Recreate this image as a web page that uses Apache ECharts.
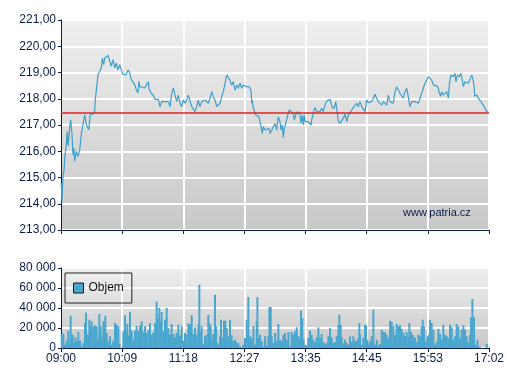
<!DOCTYPE html>
<html>
<head>
<meta charset="utf-8">
<script src="https://cdn.jsdelivr.net/npm/echarts@6/dist/echarts.min.js"></script>
<style>html,body{margin:0;padding:0;background:#fff}#c{width:507px;height:380px}</style>
</head>
<body>
<div id="c"></div>
<script>
// ---- data (minutes since 09:00, price) ----
const sessionMinutes = 482; // 09:00 .. 17:02
const xTickLabels = ["09:00","10:09","11:18","12:27","13:35","14:45","15:53","17:02"];
const refPrice = 217.48;
const priceMinutes = [0.3,1.1,2.3,3.4,4.2,6.0,7.1,7.9,9.8,10.9,12.4,13.5,14.6,15.4,17.2,19.1,21.1,22.9,24.8,26.7,28.5,30.4,31.2,33.0,36.0,38.0,38.6,40.5,41.7,43.6,45.4,46.5,48.1,49.2,51.0,52.9,54.8,56.6,58.6,60.5,62.3,64.2,66.1,67.9,69.8,71.7,73.5,75.5,77.4,79.2,81.1,83.0,84.8,86.7,87.8,88.6,90.4,94.3,94.6,98.3,99.1,101.4,103.9,105.9,109.6,111.5,113.4,117.1,120.8,122.8,124.7,126.5,128.4,130.3,132.1,134.0,135.9,137.7,139.6,141.6,143.4,145.3,147.2,149.0,150.9,152.8,154.6,156.5,158.5,160.3,162.2,164.1,165.9,167.8,169.7,171.5,173.4,175.4,177.2,179.1,181.0,182.8,184.7,186.6,188.4,190.3,192.2,194.0,196.0,197.9,199.7,201.6,203.5,205.3,207.2,209.1,211.7,214.0,214.8,215.4,216.6,218.5,219.3,221.5,223.0,225.3,226.7,227.8,229.8,231.7,234.2,235.4,237.3,239.1,241.0,242.9,244.7,246.6,247.8,249.2,250.4,251.5,253.1,254.2,255.3,256.8,259.0,261.6,262.7,264.3,266.6,268.0,269.2,270.3,271.8,272.9,274.0,274.8,276.7,278.5,281.6,282.3,284.1,286.1,288.0,289.8,291.7,293.6,295.4,297.3,299.2,301.0,302.9,304.1,305.5,307.8,309.4,310.5,312.3,314.2,316.1,317.9,319.8,321.8,323.6,325.5,327.4,329.2,331.1,333.0,334.8,336.7,338.7,340.5,342.4,344.3,346.1,348.0,349.9,351.7,353.6,355.5,357.3,359.3,361.2,363.0,364.9,366.8,368.6,370.5,372.4,374.2,376.1,378.1,379.9,381.8,383.7,385.5,387.4,389.3,391.1,393.0,395.0,396.8,398.7,400.6,402.4,404.3,406.2,408.0,409.9,411.8,413.7,415.6,417.5,419.3,421.2,423.1,424.9,426.0,427.6,428.7,430.5,432.5,434.4,436.2,437.3,438.9,440.7,441.8,443.7,444.8,446.3,448.6,450.1,451.6,453.1,455.0,456.9,458.7,460.6,462.5,463.7,465.1,465.9,468.2,470.0,471.9,475.6,479.4,481.2];
const priceValues = [214.79,214.09,215.10,215.25,215.74,216.25,216.76,216.20,216.89,217.20,216.63,215.87,216.12,215.62,216.00,215.80,216.06,216.66,216.70,217.39,217.01,216.99,216.82,217.39,217.42,217.53,217.96,218.54,218.92,219.04,219.17,219.55,219.30,219.55,219.49,219.65,219.62,219.24,219.49,219.17,219.36,219.10,219.30,219.10,218.92,218.98,218.92,219.10,218.98,218.73,218.66,218.54,218.35,218.22,218.66,218.47,218.41,218.41,218.46,218.65,218.40,218.21,218.14,217.98,217.98,217.70,217.89,217.89,217.89,217.70,218.21,218.40,218.14,217.89,218.14,217.83,217.70,217.95,217.83,217.95,218.14,218.08,217.70,217.64,217.51,217.70,217.95,217.70,217.89,217.83,217.95,217.89,217.83,218.02,218.27,218.08,217.95,217.70,217.70,217.83,218.08,218.27,218.59,218.90,218.97,218.71,218.52,218.65,218.33,218.52,218.40,218.59,218.40,218.52,218.46,218.46,218.46,218.33,217.83,217.95,217.64,217.64,217.38,217.45,217.32,216.94,216.68,216.94,216.81,216.87,216.87,216.68,216.81,216.94,217.06,216.81,217.32,217.13,216.81,217.00,216.52,216.87,217.06,217.00,217.13,217.57,217.51,217.45,217.19,217.38,217.51,217.57,217.38,217.06,217.38,217.00,217.38,217.13,217.13,217.13,217.00,217.19,217.45,217.66,217.51,217.57,217.51,217.64,217.51,217.76,217.91,217.98,217.98,217.98,217.66,217.64,217.89,217.64,217.15,217.06,217.00,217.26,217.41,217.13,217.38,217.32,217.57,217.66,217.66,217.83,217.70,217.89,217.70,217.64,217.51,217.95,217.85,217.92,217.89,218.02,218.17,218.02,217.89,217.83,217.76,217.89,217.89,217.76,218.14,217.89,217.83,217.83,218.27,218.46,218.33,218.21,218.14,218.02,218.27,218.40,218.08,217.70,217.89,217.83,217.89,217.83,217.83,217.83,218.21,218.27,218.59,218.71,218.84,218.90,218.71,218.52,218.46,218.49,218.40,218.21,218.10,218.27,218.14,218.21,218.27,218.02,218.52,218.90,218.90,218.84,218.97,218.65,218.90,218.84,218.97,218.78,218.46,218.65,218.71,218.59,218.65,218.90,218.78,218.52,218.10,218.14,218.02,217.95,217.76,217.51,217.50];
const volMinutes = [0.8,2.6,4.5,6.4,8.3,9.4,10.9,12.0,13.1,14.6,16.1,17.6,19.5,21.4,23.3,25.2,27.0,28.2,29.7,30.8,31.9,33.4,34.5,36.4,38.3,40.2,42.0,43.2,44.7,45.8,47.7,48.8,49.9,51.4,53.3,55.2,57.1,58.9,60.8,62.7,64.6,65.7,68.3,70.2,72.1,73.2,74.7,75.8,77.7,79.6,81.5,83.3,85.2,87.1,89.0,90.9,92.7,94.6,96.5,98.4,100.2,102.1,104.0,105.9,107.7,108.9,110.7,112.2,113.4,115.2,117.1,119.0,120.9,122.8,124.6,126.5,128.4,130.3,132.1,134.0,135.9,137.8,139.6,141.5,143.4,145.3,147.2,149.0,150.9,152.8,154.7,155.8,157.3,158.4,160.3,162.2,164.0,165.9,167.0,168.5,169.7,171.6,173.4,174.6,176.1,177.2,179.1,180.2,182.1,183.6,185.1,186.6,188.5,190.3,192.2,194.1,196.0,197.1,198.6,199.7,201.6,203.5,205.3,207.2,209.1,211.0,212.9,214.8,216.7,218.5,220.4,221.2,222.3,224.2,226.0,227.9,229.8,231.7,233.5,234.7,236.2,237.3,239.2,241.1,242.9,244.8,246.7,248.6,250.4,252.3,254.2,256.1,258.0,259.8,261.7,263.6,265.5,267.3,269.2,270.3,271.8,273.0,274.8,276.7,278.6,280.5,282.3,284.2,286.1,288.0,289.9,291.7,293.6,295.5,297.4,299.2,301.1,303.0,304.9,306.8,308.6,310.5,312.4,313.5,315.0,316.1,318.0,319.9,321.8,323.6,325.5,327.4,329.3,331.2,333.0,334.9,336.0,336.8,338.7,340.5,342.4,343.5,345.0,346.2,348.0,349.9,351.8,353.7,355.6,357.4,359.3,361.2,363.1,364.9,366.8,368.7,370.6,372.4,374.3,376.2,378.1,380.0,381.8,383.7,385.6,387.5,389.3,391.2,392.3,394.2,396.1,397.6,398.7,400.6,402.5,404.4,406.2,407.4,408.9,410.7,412.6,414.5,415.6,417.5,419.4,421.2,423.1,425.0,426.9,428.8,430.6,432.5,434.4,436.3,438.1,440.0,441.9,443.8,445.6,447.5,449.4,451.3,453.2,455.0,456.9,458.8,460.7,461.8,463.3,465.2,467.0,468.9,470.1,471.9,479.4];
const volValues = [14300,14300,3300,7300,17300,3300,32300,8300,13300,5000,10700,7300,16000,7300,1700,5000,25300,35300,13300,12700,28300,21700,26700,21700,22700,21700,8300,34000,21700,10700,26700,24000,32300,15000,6700,11700,3300,7300,25000,23300,21700,4000,700,16700,32700,16700,24000,12300,36000,17300,8300,17300,22300,16700,22300,26700,15700,21700,15000,18000,25000,13300,15700,25000,46300,30000,40000,26700,36000,16700,28300,40000,20000,13300,24000,14000,10700,15000,23300,12300,21700,7300,15000,13300,24300,24000,32700,14000,20700,13300,23300,63300,16000,21700,4000,11700,13300,33000,25000,22700,8300,14000,53300,21700,5000,3300,11700,28300,10000,27300,27300,20000,11700,28000,12700,6700,8300,6000,3300,5000,1700,700,3300,10000,28300,51000,11700,10000,21700,3300,26700,51000,10000,13300,6700,1700,11700,2700,11700,41000,41000,11700,5000,15000,7300,24000,8300,6700,13300,15000,8300,16000,1700,16000,13300,16700,20700,11700,10000,37300,30000,8300,3300,2700,10000,17300,13300,8300,6000,10700,20700,10000,14000,6000,4000,5000,11700,20000,10700,5000,6000,11700,22700,33300,23300,10700,5000,8300,5000,3300,11700,6000,11700,6700,7300,10000,25000,13300,3300,10000,23300,22700,8300,3300,6700,11700,38300,3300,8300,2700,4000,18300,16000,15700,13300,10000,27300,26000,21700,13300,24000,21700,22700,19300,15000,11700,16000,10700,25000,16000,13300,6700,10700,6000,13300,11700,21700,28300,21700,6700,11700,13300,28300,25000,18300,3300,6000,19300,14000,8300,23300,13300,11700,10000,23300,20700,8300,11700,24000,21700,10000,18300,22700,18300,11700,6000,13300,30700,49000,30700,3300,8300,1700,700,4000];

// ---- chart ----
const NAVY = '#0b1d48';
const FONT = 'Arial, "Liberation Sans", sans-serif';
const toX = m => m * (xTickLabels.length - 1) / sessionMinutes;
const priceData = priceMinutes.map((m, i) => [toX(m), priceValues[i]]);
const volData = volMinutes.map((m, i) => [toX(m), volValues[i]]);
const bgGrad = {type:'linear', x:0, y:0, x2:0, y2:1, colorStops:[{offset:0,color:'#efefef'},{offset:1,color:'#c8c8c8'}]};

const xBase = {
  type:'value', min:0, max:xTickLabels.length - 1, interval:1,
  axisLine:{show:true, lineStyle:{color:NAVY, width:1}},
  axisTick:{show:true, length:4, inside:false, lineStyle:{color:NAVY}},
  splitLine:{show:true, lineStyle:{color:'#ffffff', width:2}},
};
const chart = echarts.init(document.getElementById('c'), null, {renderer:'canvas'});
chart.setOption({
  animation:false,
  textStyle:{fontFamily:FONT},
  grid:[
    {left:61, right:18, top:20, height:210, show:true, backgroundColor:bgGrad, borderWidth:0},
    {left:61, right:18, top:268, height:80, show:true, backgroundColor:bgGrad, borderWidth:0}
  ],
  xAxis:[
    Object.assign({}, xBase, {gridIndex:0, axisLabel:{show:false}}),
    Object.assign({}, xBase, {gridIndex:1, axisLabel:{show:true, color:NAVY, fontSize:12, fontFamily:FONT, margin:5, showMinLabel:true, showMaxLabel:true, formatter:v => xTickLabels[Math.round(v)]}})
  ],
  yAxis:[
    {gridIndex:0, type:'value', min:213, max:221, interval:1,
     axisLine:{show:true, lineStyle:{color:NAVY, width:1}},
     axisTick:{show:true, length:3, lineStyle:{color:NAVY}},
     splitLine:{show:true, lineStyle:{color:'#ffffff', width:2}},
     axisLabel:{color:NAVY, fontSize:12, fontFamily:FONT, margin:5, formatter:v => v.toFixed(2).replace('.', ',')}},
    {gridIndex:1, type:'value', min:0, max:80000, interval:20000,
     axisLine:{show:true, lineStyle:{color:NAVY, width:1}},
     axisTick:{show:true, length:3, lineStyle:{color:NAVY}},
     splitLine:{show:true, lineStyle:{color:'#ffffff', width:2}},
     axisLabel:{color:NAVY, fontSize:12, fontFamily:FONT, margin:5, formatter:v => String(v).replace(/\B(?=(\d{3})+(?!\d))/g, ' ')}}
  ],
  legend:{
    data:['Objem'], left:65, top:273, orient:'vertical',
    borderColor:'#222222', borderWidth:1, padding:[9,8,9,8],
    itemWidth:10, itemHeight:10, itemGap:5, icon:'rect',
    itemStyle:{borderColor:'#1a1a1a', borderWidth:1},
    textStyle:{color:'#111111', fontSize:12, fontFamily:FONT}
  },
  graphic:[{type:'text', left:403, top:207, style:{text:'www.patria.cz', fill:NAVY, font:'11px ' + FONT}}],
  series:[
    {name:'Cena', type:'line', xAxisIndex:0, yAxisIndex:0, data:priceData, showSymbol:false,
     lineStyle:{color:'#3d9fcc', width:1.2}, itemStyle:{color:'#3d9fcc'},
     markLine:{silent:true, symbol:'none', label:{show:false},
       lineStyle:{color:'#e0201c', width:1.5, type:'solid'}, data:[{yAxis:refPrice}]}},
    {name:'Objem', type:'bar', xAxisIndex:1, yAxisIndex:1, data:volData, barWidth:2,
     itemStyle:{color:'#49a7cf'}}
  ]
});
</script>
</body>
</html>
